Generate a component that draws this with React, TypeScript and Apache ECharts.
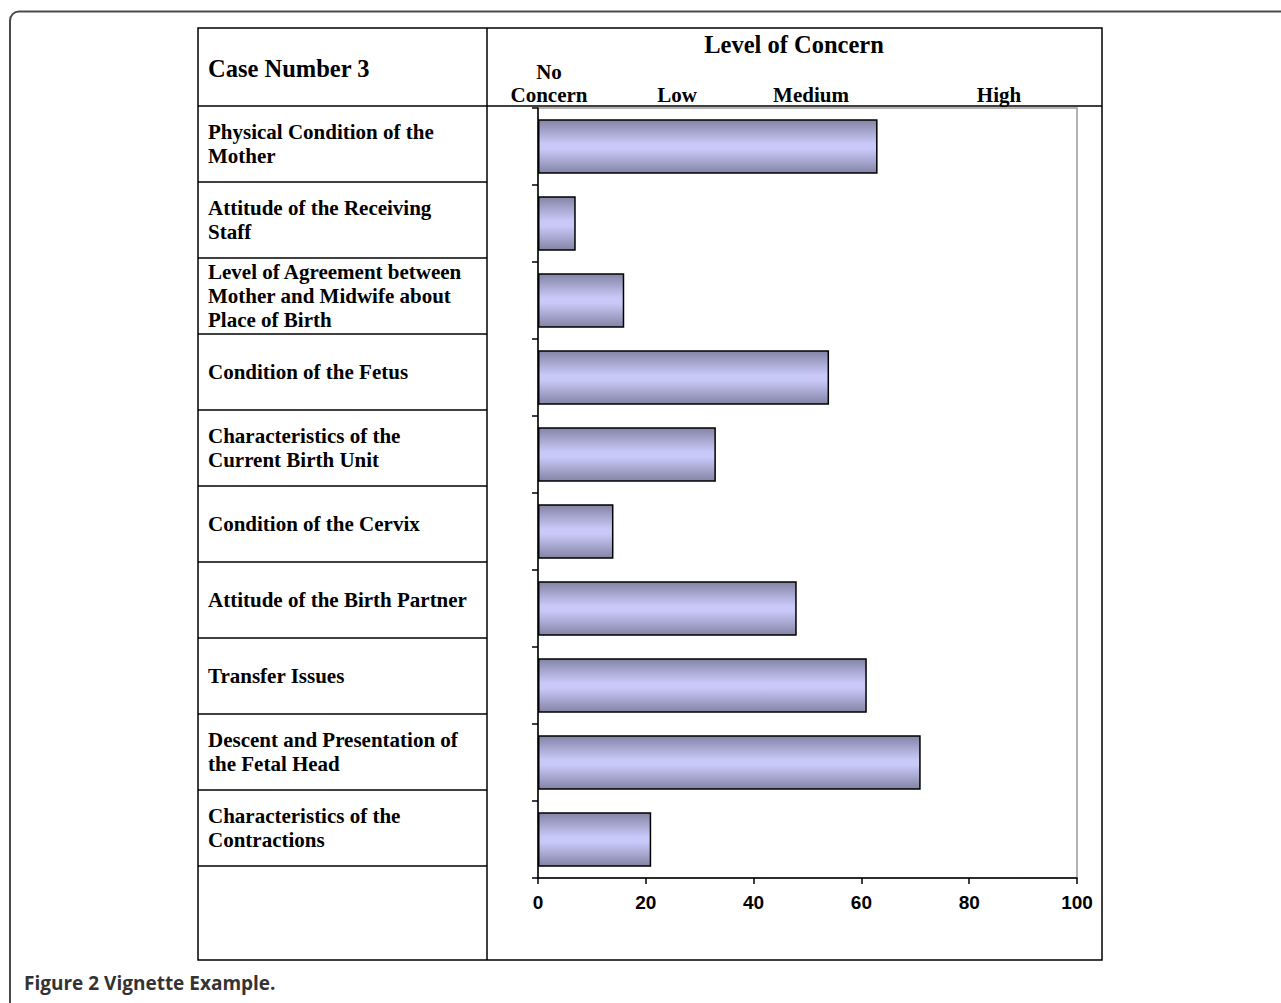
import React, { useEffect, useRef } from "react";
import * as echarts from "echarts";

// ---- data ----
const tableTitle = "Case Number 3";
const axisTitle = "Level of Concern";
const categories = [
  "Physical Condition of the\nMother",
  "Attitude of the Receiving\nStaff",
  "Level of Agreement between\nMother and Midwife about\nPlace of Birth",
  "Condition of the Fetus",
  "Characteristics of the\nCurrent Birth Unit",
  "Condition of the Cervix",
  "Attitude of the Birth Partner",
  "Transfer Issues",
  "Descent and Presentation of\nthe Fetal Head",
  "Characteristics of the\nContractions",
];
const concernValues = [63, 7, 16, 54, 33, 14, 48, 61, 71, 21];
const concernLevels = ["No\nConcern", "Low", "Medium", "High"];
const xMin = 0;
const xMax = 100;
const xStep = 20;
const caption = "Figure 2 Vignette Example.";

// ---- layout ----
const SERIF = '"Liberation Serif", "Times New Roman", serif';
const SANS = '"Liberation Sans", Arial, sans-serif';
const T_LEFT = 198;
const T_TOP = 28;
const T_RIGHT = 1102;
const T_BOTTOM = 960;
const COL_X = 487;
const HEAD_BOTTOM = 106;
const ROW_H = 76;
const levelX = [549, 677, 811, 999];

function ln(x1: number, y1: number, x2: number, y2: number, color = "#000", w = 1.5) {
  return {
    type: "line",
    silent: true,
    shape: { x1, y1, x2, y2 },
    style: { stroke: color, lineWidth: w },
  };
}

function txt(text: string, x: number, y: number, size: number, align = "left", family = SERIF, fill = "#000", lineHeight?: number) {
  return {
    type: "text",
    silent: true,
    x,
    y,
    style: {
      text,
      fontFamily: family,
      fontWeight: "bold",
      fontSize: size,
      fill,
      align,
      verticalAlign: "middle",
      lineHeight: lineHeight ?? Math.round(size * 1.15),
    },
  };
}

export default function App() {
  const ref = useRef<HTMLDivElement>(null);
  useEffect(() => {
    if (!ref.current) return;
    const chart = echarts.init(ref.current, null, { renderer: "svg" });

    const graphics: any[] = [];
    // outer rounded frame
    graphics.push({
      type: "rect",
      silent: true,
      shape: { x: 10, y: 11.5, width: 1400, height: 1100, r: 9 },
      style: { fill: "none", stroke: "#4a4a4a", lineWidth: 2 },
    });
    // table
    graphics.push({
      type: "rect",
      silent: true,
      shape: { x: T_LEFT, y: T_TOP, width: T_RIGHT - T_LEFT, height: T_BOTTOM - T_TOP },
      style: { fill: "none", stroke: "#000", lineWidth: 1.5 },
    });
    graphics.push(ln(COL_X, T_TOP, COL_X, T_BOTTOM));
    graphics.push(ln(T_LEFT, HEAD_BOTTOM, T_RIGHT, HEAD_BOTTOM));
    categories.forEach((c, i) => {
      const yTop = HEAD_BOTTOM + ROW_H * i;
      graphics.push(ln(T_LEFT, yTop + ROW_H, COL_X, yTop + ROW_H));
      graphics.push(txt(c, 208, yTop + ROW_H / 2, 21, "left", SERIF, "#000", 24));
    });
    // headers
    graphics.push(txt(tableTitle, 208, 68, 24.5));
    graphics.push(txt(axisTitle, 794, 44, 24.5, "center"));
    concernLevels.forEach((l, i) => {
      const multi = l.includes("\n");
      graphics.push(txt(l, levelX[i], multi ? 83 : 95, 21, "center", SERIF, "#000", 23));
    });
    // caption
    graphics.push(txt(caption, 24, 983, 19, "left", '"Open Sans", "Noto Sans", sans-serif', "#333"));

    const option: any = {
      animation: false,
      grid: {
        left: 538,
        top: 108,
        width: 539,
        height: 770,
        show: true,
        borderColor: "#9a9a9a",
        borderWidth: 1.5,
        backgroundColor: "transparent",
      },
      xAxis: {
        type: "value",
        min: xMin,
        max: xMax,
        interval: xStep,
        splitLine: { show: false },
        axisLine: { show: true, lineStyle: { color: "#000", width: 1.5 } },
        axisTick: { show: true, length: 6, lineStyle: { color: "#000", width: 1.5 } },
        axisLabel: {
          fontFamily: SANS,
          fontWeight: "bold",
          fontSize: 19,
          color: "#000",
          margin: 15,
        },
      },
      yAxis: {
        type: "category",
        data: categories,
        inverse: true,
        axisLabel: { show: false },
        axisLine: { show: true, lineStyle: { color: "#000", width: 1.5 } },
        axisTick: { show: true, length: 6, lineStyle: { color: "#000", width: 1.5 } },
        splitLine: { show: false },
      },
      series: [
        {
          type: "bar",
          data: concernValues,
          barCategoryGap: "29%",
          itemStyle: {
            color: new echarts.graphic.LinearGradient(0, 0, 0, 1, [
              { offset: 0, color: "#8484a6" },
              { offset: 0.45, color: "#c9c9f9" },
              { offset: 0.55, color: "#c9c9f9" },
              { offset: 1, color: "#8484a6" },
            ]),
            borderColor: "#000",
            borderWidth: 1.5,
          },
        },
      ],
      graphic: graphics,
    };
    chart.setOption(option);
    return () => chart.dispose();
  }, []);
  return (
    <div
      ref={ref}
      style={{ position: "absolute", left: 0, top: 0, width: 1281, height: 1003 }}
    />
  );
}
